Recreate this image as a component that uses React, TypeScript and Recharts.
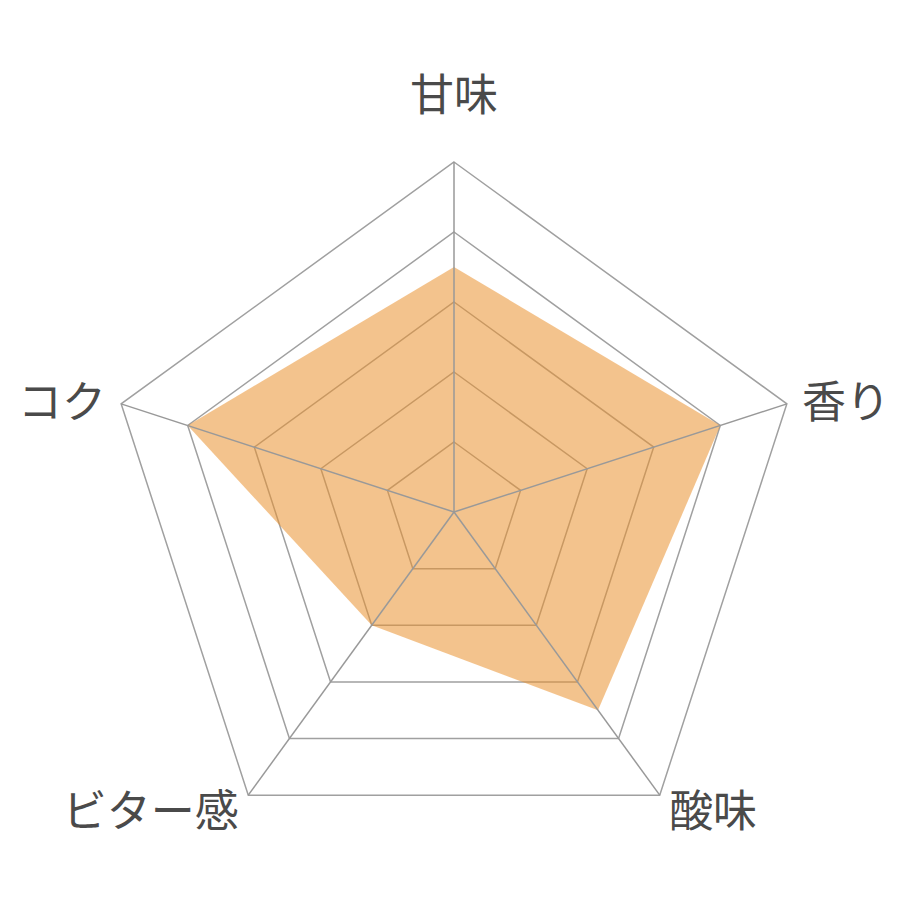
import { RadarChart, Radar, PolarGrid, PolarAngleAxis, PolarRadiusAxis } from "recharts";

const axes = ["甘味", "香り", "酸味", "ビター感", "コク"];
const scores = [3.5, 4, 3.5, 2, 4];
const maxScore = 5;

const data = axes.map((name, i) => ({ name, score: scores[i] }));

const CX = 454;
const CY = 512;
const OUTER = 350;

// label placed just outside each vertex, anchored away from the centre
const renderTick = (props: any) => {
  const { payload, x, y } = props;
  const ang = Math.atan2(y - CY, x - CX);
  const c = Math.cos(ang);
  const r = OUTER + 16;
  const tx = CX + r * c;
  let ty = CY + r * Math.sin(ang);
  const anchor = Math.abs(c) < 0.1 ? "middle" : c > 0 ? "start" : "end";
  if (anchor === "middle") ty = CY - OUTER - 70;
  return (
    <text
      x={tx}
      y={ty}
      textAnchor={anchor}
      dominantBaseline="central"
      fontSize={44}
      fill="#4a4a4a"
      fontFamily="'Noto Sans CJK JP', sans-serif"
    >
      {payload.value}
    </text>
  );
};

// filled area, then the spokes on top of it
const RadarShape = (props: any) => {
  const { points } = props;
  const d = points.map((p: any, i: number) => `${i ? "L" : "M"}${p.x},${p.y}`).join("") + "Z";
  return (
    <g>
      <path d={d} fill="#EA922F" fillOpacity={0.55} stroke="none" />
      {points.map((p: any, i: number) => {
        const rad = (-p.angle * Math.PI) / 180;
        return (
          <line
            key={i}
            x1={CX}
            y1={CY}
            x2={CX + OUTER * Math.cos(rad)}
            y2={CY + OUTER * Math.sin(rad)}
            stroke="#999"
            strokeWidth={1.5}
          />
        );
      })}
    </g>
  );
};

export default function App() {
  return (
    <div style={{ position: "absolute", left: 0, top: 0, width: 920, height: 920, background: "#fff" }}>
      <RadarChart width={920} height={920} data={data} cx={CX} cy={CY} outerRadius={OUTER}>
        <PolarGrid gridType="polygon" radialLines={false} stroke="#a0a0a0" strokeWidth={1.5} />
        <PolarAngleAxis dataKey="name" tick={renderTick} axisLine={false} tickLine={false} />
        <PolarRadiusAxis domain={[0, maxScore]} tickCount={6} tick={false} axisLine={false} />
        <Radar dataKey="score" shape={<RadarShape />} isAnimationActive={false} />
      </RadarChart>
    </div>
  );
}
